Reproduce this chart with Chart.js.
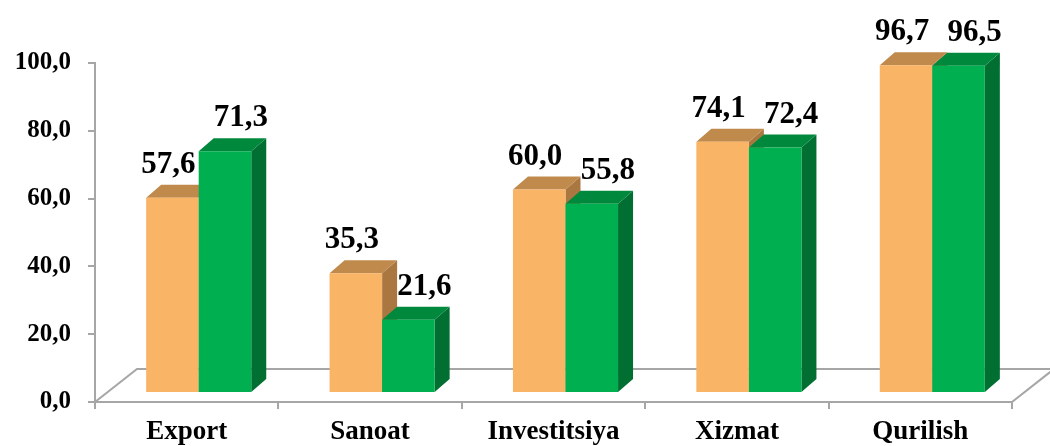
<!DOCTYPE html>
<html>
<head>
<meta charset="utf-8">
<script src="https://cdn.jsdelivr.net/npm/chart.js@4/dist/chart.umd.min.js"></script>
<style>
  body { margin: 0; background: #fff; }
  #wrap { width: 1050px; height: 446px; position: relative; }
</style>
</head>
<body>
<div id="wrap"><canvas id="chart"></canvas></div>
<script>
var categories = ['Export', 'Sanoat', 'Investitsiya', 'Xizmat', 'Qurilish'];
var series1 = [57.6, 35.3, 60.0, 74.1, 96.7];
var series2 = [71.3, 21.6, 55.8, 72.4, 96.5];
var yTicks = ['0,0', '20,0', '40,0', '60,0', '80,0', '100,0'];

var AXIS = '#A6A6A6';
var SERIF = '"Liberation Serif", "Times New Roman", serif';
// 3d look: bars sit a bit behind the front floor edge
var SHIFT_X = 12, SHIFT_Y = -9;
var DX = 15, DY = 13;
var FLOOR_DX = 42, FLOOR_DY = 33;
var faces = [
  { top: '#C08A4D', side: '#A9773F' },
  { top: '#00893D', side: '#006F31' }
];

function fmt(v) {
  return v.toFixed(1).replace('.', ',');
}

function drawBox(ctx, el, f) {
  var p = el.getProps(['x', 'y', 'base', 'width'], true);
  var l = p.x - p.width / 2;
  var r = p.x + p.width / 2;
  ctx.fillStyle = f.side;
  ctx.beginPath();
  ctx.moveTo(r, p.y);
  ctx.lineTo(r + DX, p.y - DY);
  ctx.lineTo(r + DX, p.base - DY);
  ctx.lineTo(r, p.base);
  ctx.closePath();
  ctx.fill();
  ctx.fillStyle = f.top;
  ctx.beginPath();
  ctx.moveTo(l, p.y);
  ctx.lineTo(r, p.y);
  ctx.lineTo(r + DX, p.y - DY);
  ctx.lineTo(l + DX, p.y - DY);
  ctx.closePath();
  ctx.fill();
  el.draw(ctx);
}

var bars3d = {
  id: 'bars3d',
  beforeDatasetsDraw: function(chart) {
    var ctx = chart.ctx;
    var a = chart.chartArea;
    // floor
    ctx.save();
    ctx.strokeStyle = AXIS;
    ctx.lineWidth = 2;
    ctx.beginPath();
    ctx.moveTo(a.left, a.bottom);
    ctx.lineTo(a.left + FLOOR_DX, a.bottom - FLOOR_DY);
    ctx.lineTo(a.right + FLOOR_DX, a.bottom - FLOOR_DY);
    ctx.lineTo(a.right, a.bottom);
    ctx.stroke();
    ctx.restore();

    ctx.save();
    ctx.translate(SHIFT_X, SHIFT_Y);
    var m0 = chart.getDatasetMeta(0);
    var m1 = chart.getDatasetMeta(1);
    for (var i = 0; i < categories.length; i++) {
      drawBox(ctx, m0.data[i], faces[0]);
      drawBox(ctx, m1.data[i], faces[1]);
    }
    ctx.restore();
    return false;
  },
  afterDraw: function(chart) {
    var ctx = chart.ctx;
    ctx.save();
    ctx.translate(SHIFT_X, SHIFT_Y);
    ctx.font = 'bold 31px ' + SERIF;
    ctx.fillStyle = '#000';
    ctx.textAlign = 'center';
    ctx.textBaseline = 'alphabetic';
    for (var d = 0; d < 2; d++) {
      var meta = chart.getDatasetMeta(d);
      var vals = chart.data.datasets[d].data;
      for (var i = 0; i < vals.length; i++) {
        var p = meta.data[i].getProps(['x', 'y'], true);
        var x = d === 0 ? p.x - 4 : p.x + 16;
        ctx.fillText(fmt(vals[i]), x, p.y - DY - 12);
      }
    }
    ctx.restore();
  }
};

var ctx = document.getElementById('chart').getContext('2d');
var chart = new Chart(ctx, {
  type: 'bar',
  data: {
    labels: categories,
    datasets: [
      { label: 'Series 1', data: series1, backgroundColor: '#F9B466', borderWidth: 0 },
      { label: 'Series 2', data: series2, backgroundColor: '#00B050', borderWidth: 0 }
    ]
  },
  plugins: [bars3d],
  options: {
    responsive: true,
    maintainAspectRatio: false,
    animation: false,
    layout: { padding: { top: 63, right: 38, left: 0, bottom: 0 } },
    categoryPercentage: 0.573,
    barPercentage: 1.0,
    plugins: {
      legend: { display: false },
      tooltip: { enabled: false }
    },
    scales: {
      x: {
        offset: true,
        grid: { offset: true, drawOnChartArea: false, tickLength: 7, color: AXIS, lineWidth: 2 },
        border: { display: true, color: AXIS, width: 2 },
        ticks: { color: '#000', font: { family: SERIF, size: 27, weight: 'bold' }, padding: 7, maxRotation: 0 },
        afterFit: function(s) { s.height = 44; }
      },
      y: {
        min: 0,
        max: 100,
        grid: { drawOnChartArea: false, tickLength: 7, color: AXIS, lineWidth: 2 },
        border: { display: true, color: AXIS, width: 2 },
        ticks: {
          stepSize: 20,
          color: '#000',
          padding: 17,
          font: { family: SERIF, size: 25, weight: 'bold' },
          callback: function(v, i) { return yTicks[i]; }
        },
        afterFit: function(s) { s.width = 95; }
      }
    }
  }
});
</script>
</body>
</html>
